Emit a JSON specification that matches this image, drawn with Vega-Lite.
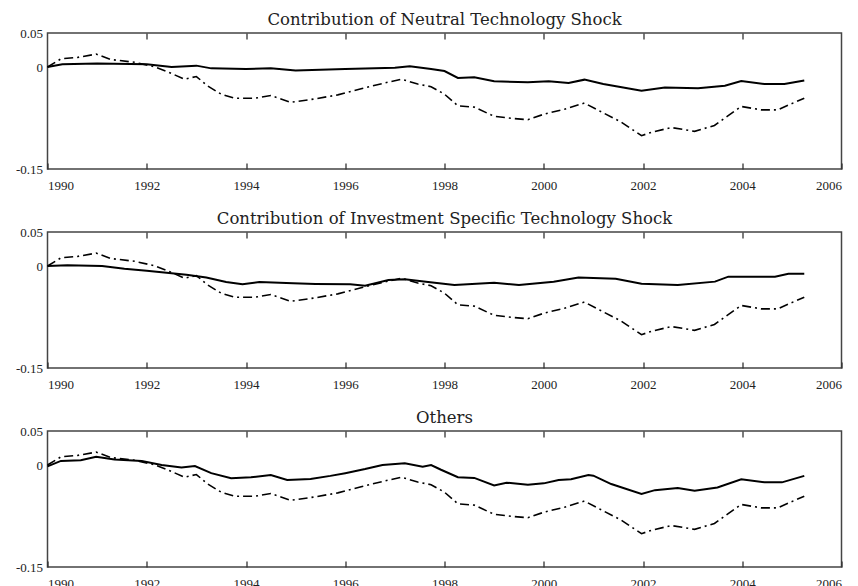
{
  "$schema": "https://vega.github.io/schema/vega-lite/v6.json",
  "background": "white",
  "padding": {"left": 14.5, "top": 10, "right": 5, "bottom": 0},
  "spacing": 16,
  "datasets": {
    "total": [
      {"t": 1990.0, "v": 0}, {"t": 1990.27, "v": 0.012}, {"t": 1990.6, "v": 0.014}, {"t": 1990.98, "v": 0.019},
      {"t": 1991.28, "v": 0.011}, {"t": 1991.75, "v": 0.007}, {"t": 1992.15, "v": 0.0005}, {"t": 1992.42, "v": -0.007},
      {"t": 1992.76, "v": -0.018}, {"t": 1993.0, "v": -0.014}, {"t": 1993.23, "v": -0.028}, {"t": 1993.5, "v": -0.04},
      {"t": 1993.77, "v": -0.046}, {"t": 1994.17, "v": -0.046}, {"t": 1994.5, "v": -0.042}, {"t": 1994.9, "v": -0.052},
      {"t": 1995.38, "v": -0.047}, {"t": 1995.85, "v": -0.041}, {"t": 1996.32, "v": -0.032}, {"t": 1996.79, "v": -0.0235},
      {"t": 1997.13, "v": -0.018}, {"t": 1997.46, "v": -0.025}, {"t": 1997.73, "v": -0.029}, {"t": 1998.0, "v": -0.04},
      {"t": 1998.27, "v": -0.057}, {"t": 1998.6, "v": -0.059}, {"t": 1999.0, "v": -0.0725}, {"t": 1999.35, "v": -0.0755},
      {"t": 1999.68, "v": -0.0775}, {"t": 2000.02, "v": -0.069}, {"t": 2000.42, "v": -0.062}, {"t": 2000.82, "v": -0.053},
      {"t": 2001.16, "v": -0.066}, {"t": 2001.56, "v": -0.081}, {"t": 2001.97, "v": -0.101}, {"t": 2002.17, "v": -0.096},
      {"t": 2002.57, "v": -0.089}, {"t": 2003.04, "v": -0.0946}, {"t": 2003.44, "v": -0.086}, {"t": 2003.71, "v": -0.072},
      {"t": 2003.98, "v": -0.058}, {"t": 2004.38, "v": -0.063}, {"t": 2004.72, "v": -0.063}, {"t": 2004.99, "v": -0.054},
      {"t": 2005.25, "v": -0.046}
    ],
    "neutral": [
      {"t": 1990.0, "v": 0}, {"t": 1990.3, "v": 0.004}, {"t": 1991.0, "v": 0.005}, {"t": 1992.0, "v": 0.004},
      {"t": 1992.5, "v": 0.0}, {"t": 1993.0, "v": 0.002}, {"t": 1993.3, "v": -0.002}, {"t": 1994.0, "v": -0.003},
      {"t": 1994.5, "v": -0.002}, {"t": 1995.0, "v": -0.005}, {"t": 1996.0, "v": -0.003}, {"t": 1997.0, "v": -0.001},
      {"t": 1997.3, "v": 0.001}, {"t": 1997.73, "v": -0.003}, {"t": 1998.0, "v": -0.006}, {"t": 1998.27, "v": -0.016},
      {"t": 1998.6, "v": -0.015}, {"t": 1999.0, "v": -0.021}, {"t": 1999.68, "v": -0.0225}, {"t": 2000.1, "v": -0.021},
      {"t": 2000.5, "v": -0.0235}, {"t": 2000.82, "v": -0.0186}, {"t": 2001.2, "v": -0.025}, {"t": 2001.97, "v": -0.0348},
      {"t": 2002.44, "v": -0.03}, {"t": 2003.11, "v": -0.0314}, {"t": 2003.65, "v": -0.0275}, {"t": 2003.98, "v": -0.0206},
      {"t": 2004.45, "v": -0.025}, {"t": 2004.85, "v": -0.025}, {"t": 2005.25, "v": -0.02}
    ],
    "invest": [
      {"t": 1990.0, "v": 0}, {"t": 1990.4, "v": 0.001}, {"t": 1991.1, "v": 0}, {"t": 1991.55, "v": -0.004},
      {"t": 1992.0, "v": -0.007}, {"t": 1992.4, "v": -0.01}, {"t": 1992.8, "v": -0.013}, {"t": 1993.2, "v": -0.017},
      {"t": 1993.6, "v": -0.0235}, {"t": 1993.93, "v": -0.027}, {"t": 1994.27, "v": -0.0235}, {"t": 1994.95, "v": -0.0255},
      {"t": 1995.4, "v": -0.0265}, {"t": 1996.1, "v": -0.027}, {"t": 1996.4, "v": -0.029}, {"t": 1996.87, "v": -0.0206},
      {"t": 1997.2, "v": -0.0196}, {"t": 1997.67, "v": -0.0235}, {"t": 1998.2, "v": -0.028}, {"t": 1999.0, "v": -0.0245},
      {"t": 1999.5, "v": -0.028}, {"t": 2000.2, "v": -0.023}, {"t": 2000.7, "v": -0.017}, {"t": 2001.45, "v": -0.0186},
      {"t": 2001.97, "v": -0.026}, {"t": 2002.7, "v": -0.028}, {"t": 2003.45, "v": -0.023}, {"t": 2003.72, "v": -0.0157},
      {"t": 2004.66, "v": -0.0157}, {"t": 2004.93, "v": -0.0113}, {"t": 2005.25, "v": -0.0113}
    ],
    "others": [
      {"t": 1990.0, "v": -0.002}, {"t": 1990.27, "v": 0.006}, {"t": 1990.67, "v": 0.007}, {"t": 1990.98, "v": 0.012},
      {"t": 1991.35, "v": 0.008}, {"t": 1991.9, "v": 0.006}, {"t": 1992.3, "v": 0}, {"t": 1992.7, "v": -0.0035},
      {"t": 1992.97, "v": -0.0015}, {"t": 1993.3, "v": -0.012}, {"t": 1993.7, "v": -0.0196}, {"t": 1994.1, "v": -0.018},
      {"t": 1994.5, "v": -0.0147}, {"t": 1994.83, "v": -0.022}, {"t": 1995.3, "v": -0.0206}, {"t": 1995.7, "v": -0.016},
      {"t": 1996.0, "v": -0.012}, {"t": 1996.4, "v": -0.006}, {"t": 1996.75, "v": 0}, {"t": 1997.2, "v": 0.0025},
      {"t": 1997.56, "v": -0.0025}, {"t": 1997.73, "v": 0}, {"t": 1997.93, "v": -0.007}, {"t": 1998.27, "v": -0.018},
      {"t": 1998.6, "v": -0.019}, {"t": 1999.0, "v": -0.03}, {"t": 1999.25, "v": -0.026}, {"t": 1999.68, "v": -0.029},
      {"t": 2000.0, "v": -0.027}, {"t": 2000.3, "v": -0.022}, {"t": 2000.55, "v": -0.021}, {"t": 2000.9, "v": -0.0147},
      {"t": 2001.0, "v": -0.0157}, {"t": 2001.36, "v": -0.028}, {"t": 2001.97, "v": -0.0426}, {"t": 2002.24, "v": -0.037},
      {"t": 2002.7, "v": -0.034}, {"t": 2003.04, "v": -0.038}, {"t": 2003.5, "v": -0.033}, {"t": 2003.98, "v": -0.021},
      {"t": 2004.45, "v": -0.0255}, {"t": 2004.8, "v": -0.0255}, {"t": 2005.25, "v": -0.016}
    ]
  },
  "config": {
    "font": "Liberation Serif",
    "view": {"stroke": "#444", "strokeWidth": 1.5},
    "axis": {"grid": false, "domain": false, "labelFont": "Liberation Serif", "labelFontSize": 13, "labelColor": "#222", "tickColor": "#333", "tickWidth": 1.3},
    "title": {"font": "DejaVu Serif", "fontSize": 16.5, "fontWeight": "normal", "color": "#222", "anchor": "middle", "offset": -1}
  },
  "vconcat": [
    {
      "title": "Contribution of Neutral Technology Shock",
      "width": 794, "height": 136,
      "resolve": {"axis": {"x": "independent"}},
      "layer": [
        {"mark": {"type": "rule", "color": "#555", "strokeWidth": 0.8, "strokeDash": [3, 2]}, "encoding": {"y": {"datum": 0, "type": "quantitative", "scale": {"domain": [-0.15, 0.05]}}}},
        {"data": {"name": "total"}, "mark": {"type": "line", "color": "black", "strokeWidth": 1.6, "strokeDash": [9, 4, 2, 4]},
          "encoding": {
            "x": {"field": "t", "type": "quantitative", "scale": {"domain": [1990, 2006], "nice": false}, "axis": {"title": null, "values": [1990, 1992, 1994, 1996, 1998, 2000, 2002, 2004, 2006], "format": "d", "offset": -6, "tickSize": 6, "labelPadding": 10}},
            "y": {"field": "v", "type": "quantitative", "scale": {"domain": [-0.15, 0.05], "nice": false}, "axis": {"title": null, "values": [-0.15, 0, 0.05], "ticks": false, "labelPadding": 5, "labelExpr": "datum.value > 0.01 ? '0.05' : (datum.value < -0.01 ? '-0.15' : '0')"}}
          }},
        {"data": {"name": "neutral"}, "mark": {"type": "line", "color": "black", "strokeWidth": 2},
          "encoding": {
            "x": {"field": "t", "type": "quantitative", "axis": {"orient": "top", "title": null, "labels": false, "values": [1992, 1994, 1996, 1998, 2000, 2002, 2004], "offset": -6, "tickSize": 6, "minExtent": 0, "maxExtent": 0}},
            "y": {"field": "v", "type": "quantitative"}
          }}
      ]
    },
    {
      "title": "Contribution of Investment Specific Technology Shock",
      "width": 794, "height": 136,
      "resolve": {"axis": {"x": "independent"}},
      "layer": [
        {"mark": {"type": "rule", "color": "#555", "strokeWidth": 0.8, "strokeDash": [3, 2]}, "encoding": {"y": {"datum": 0, "type": "quantitative", "scale": {"domain": [-0.15, 0.05]}}}},
        {"data": {"name": "total"}, "mark": {"type": "line", "color": "black", "strokeWidth": 1.6, "strokeDash": [9, 4, 2, 4]},
          "encoding": {
            "x": {"field": "t", "type": "quantitative", "scale": {"domain": [1990, 2006], "nice": false}, "axis": {"title": null, "values": [1990, 1992, 1994, 1996, 1998, 2000, 2002, 2004, 2006], "format": "d", "offset": -6, "tickSize": 6, "labelPadding": 10}},
            "y": {"field": "v", "type": "quantitative", "scale": {"domain": [-0.15, 0.05], "nice": false}, "axis": {"title": null, "values": [-0.15, 0, 0.05], "ticks": false, "labelPadding": 5, "labelExpr": "datum.value > 0.01 ? '0.05' : (datum.value < -0.01 ? '-0.15' : '0')"}}
          }},
        {"data": {"name": "invest"}, "mark": {"type": "line", "color": "black", "strokeWidth": 2},
          "encoding": {
            "x": {"field": "t", "type": "quantitative", "axis": {"orient": "top", "title": null, "labels": false, "values": [1992, 1994, 1996, 1998, 2000, 2002, 2004], "offset": -6, "tickSize": 6, "minExtent": 0, "maxExtent": 0}},
            "y": {"field": "v", "type": "quantitative"}
          }}
      ]
    },
    {
      "title": "Others",
      "width": 794, "height": 136,
      "resolve": {"axis": {"x": "independent"}},
      "layer": [
        {"mark": {"type": "rule", "color": "#bbb", "strokeWidth": 2.5, "strokeDash": [3, 3]}, "encoding": {"y": {"datum": 0, "type": "quantitative", "scale": {"domain": [-0.15, 0.05]}}}},
        {"data": {"name": "total"}, "mark": {"type": "line", "color": "black", "strokeWidth": 1.6, "strokeDash": [9, 4, 2, 4]},
          "encoding": {
            "x": {"field": "t", "type": "quantitative", "scale": {"domain": [1990, 2006], "nice": false}, "axis": {"title": null, "values": [1990, 1992, 1994, 1996, 1998, 2000, 2002, 2004, 2006], "format": "d", "offset": -6, "tickSize": 6, "labelPadding": 10}},
            "y": {"field": "v", "type": "quantitative", "scale": {"domain": [-0.15, 0.05], "nice": false}, "axis": {"title": null, "values": [-0.15, 0, 0.05], "ticks": false, "labelPadding": 5, "labelExpr": "datum.value > 0.01 ? '0.05' : (datum.value < -0.01 ? '-0.15' : '0')"}}
          }},
        {"data": {"name": "others"}, "mark": {"type": "line", "color": "black", "strokeWidth": 2},
          "encoding": {
            "x": {"field": "t", "type": "quantitative", "axis": {"orient": "top", "title": null, "labels": false, "values": [1992, 1994, 1996, 1998, 2000, 2002, 2004], "offset": -6, "tickSize": 6, "minExtent": 0, "maxExtent": 0}},
            "y": {"field": "v", "type": "quantitative"}
          }}
      ]
    }
  ]
}
